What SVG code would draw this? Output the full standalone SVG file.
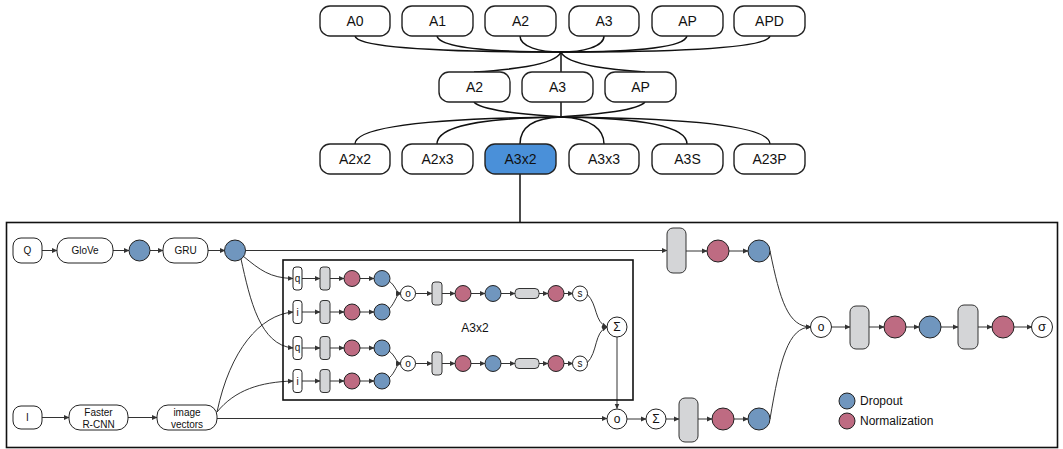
<svg xmlns="http://www.w3.org/2000/svg" width="1063" height="449" viewBox="0 0 1063 449">
<defs>
<marker id="ah" markerUnits="userSpaceOnUse" markerWidth="6" markerHeight="6" refX="5" refY="3" orient="auto">
<path d="M0,0.5 L5.5,3 L0,5.5 z" fill="#333"/>
</marker>
<style>
.tn{fill:#fff;stroke:#222;stroke-width:1.4}
.sel{fill:#4A90D9;stroke:#222;stroke-width:1.4}
.t{font-family:"Liberation Sans",Arial,sans-serif;fill:#111;text-anchor:middle;dominant-baseline:central}
.tl{font-size:14px}
.ts{font-size:10px}
.tx{font-size:10px}
.tree{fill:none;stroke:#111;stroke-width:1.5}
.c{fill:none;stroke:#333;stroke-width:1}
.ca{fill:none;stroke:#333;stroke-width:1;marker-end:url(#ah)}
.bn{fill:#fff;stroke:#222;stroke-width:1}
.dr{fill:#7096BE;stroke:#222;stroke-width:1}
.nm{fill:#BE6B82;stroke:#222;stroke-width:1}
.gb{fill:#D4D5D7;stroke:#333;stroke-width:1}
.box{fill:none;stroke:#111;stroke-width:1.6}
</style>
</defs>
<rect width="1063" height="449" fill="#fff"/>

<g id="connectors">
<!-- tree -->
<path class="tree" d="M355,36 C358,50 470,52 561,52"/>
<path class="tree" d="M437,36 C440,49 500,52 561,52"/>
<path class="tree" d="M520,36 C520,47 540,52 561,52"/>
<path class="tree" d="M604,36 C604,47 582,52 561,52"/>
<path class="tree" d="M687,36 C684,49 622,52 561,52"/>
<path class="tree" d="M770,36 C767,50 652,52 561,52"/>
<path class="tree" d="M561,52 C555,66 505,70 474,72"/>
<path class="tree" d="M561,52 L561,72"/>
<path class="tree" d="M561,52 C567,66 617,70 645,72"/>
<path class="tree" d="M474,102 C482,112 540,115 561,117"/>
<path class="tree" d="M561,102 L561,117"/>
<path class="tree" d="M645,102 C637,112 582,115 561,117"/>
<path class="tree" d="M561,117 C450,118 355,124 355,144"/>
<path class="tree" d="M561,117 C480,118 437,126 437,144"/>
<path class="tree" d="M561,117 C530,118 520,130 520,144"/>
<path class="tree" d="M561,117 C592,118 604,130 604,144"/>
<path class="tree" d="M561,117 C642,118 687,126 687,144"/>
<path class="tree" d="M561,117 C672,118 770,124 770,144"/>
<path class="tree" d="M520,174 L520,222"/>
<!-- question stream -->
<path class="ca" d="M42,250.5 L57,250.5"/>
<path class="ca" d="M113,250.5 L129,250.5"/>
<path class="ca" d="M150,250.5 L163,250.5"/>
<path class="ca" d="M208,250.5 L225,250.5"/>
<path class="ca" d="M245,250.5 L667,250.5"/>
<path class="ca" d="M686,251 L707,251"/>
<path class="ca" d="M729,251 L748,251"/>
<!-- image stream -->
<path class="ca" d="M42,417.5 L69,417.5"/>
<path class="ca" d="M128,417.5 L157,417.5"/>
<path class="ca" d="M217,418.5 L607,418.5"/>
<!-- inputs into A3x2 -->
<path class="ca" d="M243,256 C260,270 270,278 293,278.5"/>
<path class="ca" d="M241,259 C250,300 260,345 293,348"/>
<path class="ca" d="M217,412 C230,350 260,315 293,312"/>
<path class="ca" d="M217,412 C235,390 260,382 293,381"/>
<!-- A3x2 internal rows -->
<path class="ca" d="M302,278.5 L320,278.5"/>
<path class="ca" d="M330,278.5 L344,278.5"/>
<path class="ca" d="M360,278.5 L374,278.5"/>
<path class="ca" d="M302,312 L320,312"/>
<path class="ca" d="M330,312 L344,312"/>
<path class="ca" d="M360,312 L374,312"/>
<path class="ca" d="M302,348 L320,348"/>
<path class="ca" d="M330,348 L344,348"/>
<path class="ca" d="M360,348 L374,348"/>
<path class="ca" d="M302,381 L320,381"/>
<path class="ca" d="M330,381 L344,381"/>
<path class="ca" d="M360,381 L374,381"/>
<path class="ca" d="M389,281 C396,286 396,293 401,293.5"/>
<path class="ca" d="M389,309 C396,302 396,294 401,293.5"/>
<path class="ca" d="M389,351 C396,356 396,363 401,363.5"/>
<path class="ca" d="M389,378 C396,372 396,364 401,363.5"/>
<path class="ca" d="M415,293.5 L432,293.5"/>
<path class="ca" d="M442,293.5 L455,293.5"/>
<path class="ca" d="M471,293.5 L485,293.5"/>
<path class="ca" d="M501,293.5 L515,293.5"/>
<path class="ca" d="M539,293.5 L548,293.5"/>
<path class="ca" d="M564,293.5 L573,293.5"/>
<path class="ca" d="M415,363.5 L432,363.5"/>
<path class="ca" d="M442,363.5 L455,363.5"/>
<path class="ca" d="M471,363.5 L485,363.5"/>
<path class="ca" d="M501,363.5 L515,363.5"/>
<path class="ca" d="M539,363.5 L548,363.5"/>
<path class="ca" d="M564,363.5 L573,363.5"/>
<path class="ca" d="M587,294 C598,305 594,322 607,327"/>
<path class="ca" d="M587,363 C598,352 594,332 607,327"/>
<path class="ca" d="M617,337 L617,408.5"/>
<!-- bottom chain -->
<path class="ca" d="M627,419 L646,419"/>
<path class="ca" d="M666,419 L679,419"/>
<path class="ca" d="M698,419 L712,419"/>
<path class="ca" d="M734,419 L748,419"/>
<!-- merge -->
<path class="ca" d="M770,251 C780,300 788,327 811,327"/>
<path class="ca" d="M770,419 C780,360 788,327 811,327"/>
<path class="ca" d="M832,327 L850,327"/>
<path class="ca" d="M869,327 L884,327"/>
<path class="ca" d="M906,327 L919,327"/>
<path class="ca" d="M941,327 L958,327"/>
<path class="ca" d="M978,327 L992,327"/>
<path class="ca" d="M1014,327 L1032,327"/>
</g>

<!-- tree nodes -->
<g id="t-A0"><rect class="tn" x="320" y="6" width="70" height="30" rx="10"/><text class="t tl" x="355" y="21">A0</text></g>
<g id="t-A1"><rect class="tn" x="402" y="6" width="71" height="30" rx="10"/><text class="t tl" x="437.5" y="21">A1</text></g>
<g id="t-A2"><rect class="tn" x="485" y="6" width="71" height="30" rx="10"/><text class="t tl" x="520.5" y="21">A2</text></g>
<g id="t-A3"><rect class="tn" x="569" y="6" width="70" height="30" rx="10"/><text class="t tl" x="604" y="21">A3</text></g>
<g id="t-AP"><rect class="tn" x="652" y="6" width="71" height="30" rx="10"/><text class="t tl" x="687.5" y="21">AP</text></g>
<g id="t-APD"><rect class="tn" x="734" y="6" width="71" height="30" rx="10"/><text class="t tl" x="769.5" y="21">APD</text></g>

<g id="m-A2"><rect class="tn" x="439" y="72" width="71" height="30" rx="10"/><text class="t tl" x="474.5" y="87">A2</text></g>
<g id="m-A3"><rect class="tn" x="522" y="72" width="71" height="30" rx="10"/><text class="t tl" x="557.5" y="87">A3</text></g>
<g id="m-AP"><rect class="tn" x="605" y="72" width="71" height="30" rx="10"/><text class="t tl" x="640.5" y="87">AP</text></g>

<g id="b-A2x2"><rect class="tn" x="320" y="144" width="70" height="30" rx="10"/><text class="t tl" x="355" y="159">A2x2</text></g>
<g id="b-A2x3"><rect class="tn" x="402" y="144" width="71" height="30" rx="10"/><text class="t tl" x="437.5" y="159">A2x3</text></g>
<g id="b-A3x2"><rect class="sel" x="485" y="144" width="71" height="30" rx="10"/><text class="t tl" x="520.5" y="159">A3x2</text></g>
<g id="b-A3x3"><rect class="tn" x="569" y="144" width="70" height="30" rx="10"/><text class="t tl" x="604" y="159">A3x3</text></g>
<g id="b-A3S"><rect class="tn" x="652" y="144" width="71" height="30" rx="10"/><text class="t tl" x="687.5" y="159">A3S</text></g>
<g id="b-A23P"><rect class="tn" x="734" y="144" width="71" height="30" rx="10"/><text class="t tl" x="769.5" y="159">A23P</text></g>

<!-- frames -->
<g id="outer-box"><rect class="box" x="6.5" y="222.5" width="1051" height="225"/></g>
<g id="inner-box"><rect class="box" x="283" y="260" width="350" height="140" stroke-width="2"/><text class="t" x="475" y="328" font-size="12" fill="#333">A3x2</text></g>

<!-- question stream -->
<g id="n-Q"><rect class="bn" x="13" y="238" width="29" height="25" rx="8"/><text class="t ts" x="27.5" y="250.5">Q</text></g>
<g id="n-GloVe"><rect class="bn" x="57" y="238" width="56" height="25" rx="11"/><text class="t ts" x="85" y="250.5">GloVe</text></g>
<g id="n-d1"><circle class="dr" cx="139.5" cy="250.5" r="10.5"/></g>
<g id="n-GRU"><rect class="bn" x="163" y="238" width="45" height="25" rx="11"/><text class="t ts" x="185.5" y="250.5">GRU</text></g>
<g id="n-d2"><circle class="dr" cx="235" cy="250.5" r="10.5"/></g>
<g id="n-qfc"><rect class="gb" x="667" y="228" width="19" height="45" rx="6"/></g>
<g id="n-qnm"><circle class="nm" cx="718" cy="251" r="11"/></g>
<g id="n-qdr"><circle class="dr" cx="759" cy="251" r="11"/></g>

<!-- image stream -->
<g id="n-I"><rect class="bn" x="13" y="406" width="29" height="23" rx="8"/><text class="t ts" x="27.5" y="417.5">I</text></g>
<g id="n-frcnn"><rect class="bn" x="69" y="405" width="59" height="25" rx="11"/><text class="t ts" x="98.5" y="412">Faster</text><text class="t ts" x="98.5" y="424">R-CNN</text></g>
<g id="n-iv"><rect class="bn" x="157" y="405" width="60" height="25" rx="11"/><text class="t ts" x="187" y="412">image</text><text class="t ts" x="187" y="424">vectors</text></g>

<!-- A3x2 internal: branch 1 -->
<g id="a-q1"><rect class="bn" x="293" y="267" width="9" height="23" rx="3"/><text class="t tx" x="297.5" y="278">q</text></g>
<g id="a-g1"><rect class="gb" x="320" y="267" width="10" height="23" rx="3"/></g>
<g id="a-n1"><circle class="nm" cx="352" cy="278.5" r="8"/></g>
<g id="a-d1"><circle class="dr" cx="382" cy="278.5" r="8"/></g>
<g id="a-i1"><rect class="bn" x="293" y="300.5" width="9" height="23" rx="3"/><text class="t tx" x="297.5" y="312">i</text></g>
<g id="a-g2"><rect class="gb" x="320" y="300.5" width="10" height="23" rx="3"/></g>
<g id="a-n2"><circle class="nm" cx="352" cy="312" r="8"/></g>
<g id="a-d2"><circle class="dr" cx="382" cy="312" r="8"/></g>
<g id="a-o1"><circle class="bn" cx="408" cy="293.5" r="7.5"/><text class="t tx" x="408" y="293">o</text></g>
<g id="a-g3"><rect class="gb" x="432" y="282" width="10" height="23" rx="3"/></g>
<g id="a-n3"><circle class="nm" cx="463" cy="293.5" r="8"/></g>
<g id="a-d3"><circle class="dr" cx="493" cy="293.5" r="8"/></g>
<g id="a-p1"><rect class="gb" x="515" y="288.5" width="24" height="10" rx="4"/></g>
<g id="a-n4"><circle class="nm" cx="556" cy="293.5" r="8"/></g>
<g id="a-s1"><circle class="bn" cx="580" cy="293.5" r="7.5"/><text class="t tx" x="580" y="293.5">s</text></g>

<!-- A3x2 internal: branch 2 -->
<g id="a-q2"><rect class="bn" x="293" y="336.5" width="9" height="23" rx="3"/><text class="t tx" x="297.5" y="347.5">q</text></g>
<g id="a-g4"><rect class="gb" x="320" y="336.5" width="10" height="23" rx="3"/></g>
<g id="a-n5"><circle class="nm" cx="352" cy="348" r="8"/></g>
<g id="a-d5"><circle class="dr" cx="382" cy="348" r="8"/></g>
<g id="a-i2"><rect class="bn" x="293" y="369.5" width="9" height="23" rx="3"/><text class="t tx" x="297.5" y="381">i</text></g>
<g id="a-g5"><rect class="gb" x="320" y="369.5" width="10" height="23" rx="3"/></g>
<g id="a-n6"><circle class="nm" cx="352" cy="381" r="8"/></g>
<g id="a-d6"><circle class="dr" cx="382" cy="381" r="8"/></g>
<g id="a-o2"><circle class="bn" cx="408" cy="363.5" r="7.5"/><text class="t tx" x="408" y="363">o</text></g>
<g id="a-g6"><rect class="gb" x="432" y="352" width="10" height="23" rx="3"/></g>
<g id="a-n7"><circle class="nm" cx="463" cy="363.5" r="8"/></g>
<g id="a-d7"><circle class="dr" cx="493" cy="363.5" r="8"/></g>
<g id="a-p2"><rect class="gb" x="515" y="358.5" width="24" height="10" rx="4"/></g>
<g id="a-n8"><circle class="nm" cx="556" cy="363.5" r="8"/></g>
<g id="a-s2"><circle class="bn" cx="580" cy="363.5" r="7.5"/><text class="t tx" x="580" y="363.5">s</text></g>
<g id="a-sum"><circle class="bn" cx="617" cy="327" r="10"/><text class="t" x="617" y="327" font-size="12">Σ</text></g>

<!-- bottom chain -->
<g id="n-o3"><circle class="bn" cx="617" cy="419" r="10"/><text class="t" x="617" y="418.5" font-size="12">o</text></g>
<g id="n-sum2"><circle class="bn" cx="656" cy="419" r="10"/><text class="t" x="656" y="419" font-size="12">Σ</text></g>
<g id="n-ifc"><rect class="gb" x="679" y="398" width="19" height="44" rx="6"/></g>
<g id="n-inm"><circle class="nm" cx="723" cy="419" r="11"/></g>
<g id="n-idr"><circle class="dr" cx="759" cy="419" r="11"/></g>

<!-- output chain -->
<g id="n-o4"><circle class="bn" cx="821" cy="327" r="10.5"/><text class="t" x="821" y="326.5" font-size="12">o</text></g>
<g id="n-fc1"><rect class="gb" x="850" y="306" width="19" height="43" rx="6"/></g>
<g id="n-onm1"><circle class="nm" cx="895" cy="327" r="11"/></g>
<g id="n-odr"><circle class="dr" cx="930" cy="327" r="11"/></g>
<g id="n-fc2"><rect class="gb" x="958" y="305" width="20" height="44" rx="6"/></g>
<g id="n-onm2"><circle class="nm" cx="1003" cy="327" r="11"/></g>
<g id="n-sig"><circle class="bn" cx="1042" cy="327" r="10.5"/><text class="t" x="1042" y="326.5" font-size="13">σ</text></g>

<!-- legend -->
<g id="legend">
<circle class="dr" cx="847" cy="401" r="8"/>
<text class="t" x="860" y="401" font-size="12" style="text-anchor:start" fill="#222">Dropout</text>
<circle class="nm" cx="847" cy="421" r="8"/>
<text class="t" x="860" y="421" font-size="12" style="text-anchor:start" fill="#222">Normalization</text>
</g>
</svg>
